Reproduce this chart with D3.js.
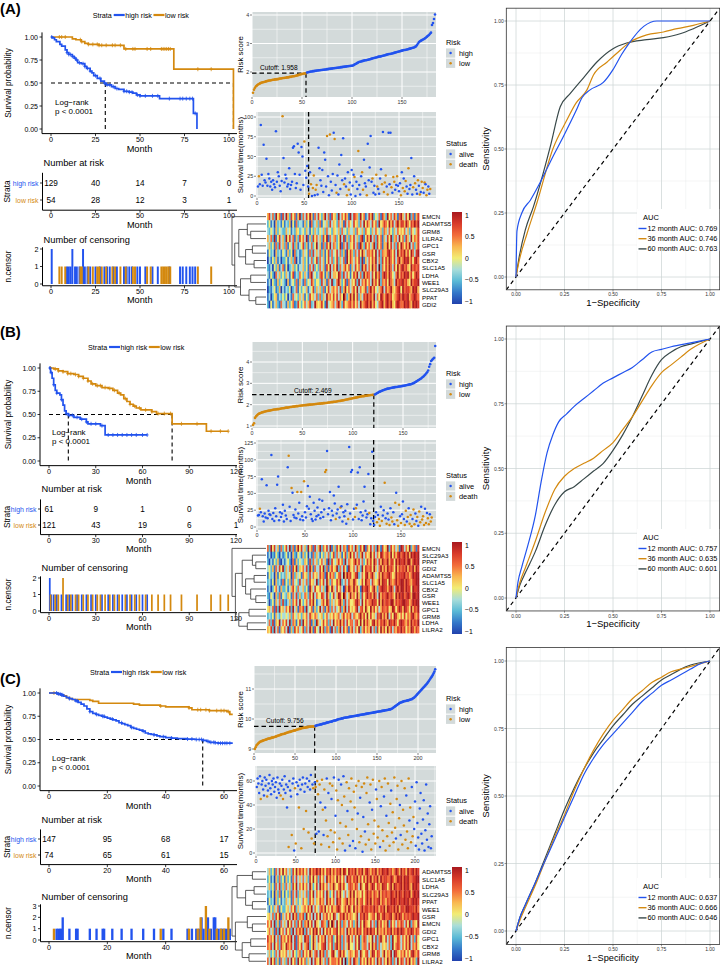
<!DOCTYPE html>
<html><head><meta charset="utf-8">
<script src="https://cdn.jsdelivr.net/npm/d3@7/dist/d3.min.js"></script>
<style>html,body{margin:0;padding:0;background:#fff}svg{display:block}</style>
</head><body>
<svg id="fig" width="720" height="965" xmlns="http://www.w3.org/2000/svg"></svg>
<script>
/* ================= DATA ================= */
const strata = ["high risk","low risk"];
// Kaplan-Meier steps [month, survival]
const kmA_high=[[0,1],[1,.99],[2,.97],[3,.95],[5,.92],[6,.90],[8,.86],[9,.83],[10,.81],[12,.79],[13,.77],[14,.75],[15,.72],[17,.71],[19,.68],[20,.66],[22,.63],[23,.61],[24,.58],[26,.55],[28,.52],[30,.50],[31,.48],[34,.46],[36,.44],[38,.43],[41,.41],[44,.40],[46,.39],[48,.37],[50,.36],[61,.33],[80,.17],[82,0]];
const kmA_low=[[0,1],[12,.98],[14,.97],[17,.95],[19,.93],[21,.92],[27,.91],[41,.87],[69,.65],[102.5,0]];
const kmA_end=[82,102.5], kmA_median=[30.5,102.5];
const kmB_high=[[0,1],[1,.95],[2,.89],[3,.82],[4,.76],[5,.73],[7,.71],[8,.66],[9,.60],[10,.54],[11,.51],[12.4,.49],[16,.47],[20,.45],[24,.42],[25,.40],[33,.38],[36,.28]];
const kmB_low=[[0,1],[3,.99],[6,.97],[9,.96],[12,.94],[16,.93],[19,.91],[22,.89],[25,.86],[27,.83],[30,.81],[34,.79],[38,.78],[41,.76],[44,.73],[46,.71],[48,.67],[50,.64],[52,.61],[54,.59],[56,.57],[59,.55],[66,.53],[69,.51],[79,.40],[101,.32]];
const kmB_end=[63,115], kmB_median=[12.4,79];
const kmC_high=[[0,1],[3,.99],[4,.98],[5,.965],[6,.95],[7,.94],[8,.93],[9,.915],[10,.90],[11,.88],[12,.86],[13,.83],[14,.80],[15,.78],[16,.77],[17,.76],[18,.75],[19,.74],[20,.73],[21,.72],[22,.71],[23,.70],[24,.68],[25,.67],[26,.66],[27,.65],[28,.63],[29,.62],[30,.61],[31,.60],[32,.59],[33,.57],[34,.56],[35,.555],[36,.55],[37,.54],[38,.53],[40,.52],[42,.515],[44,.51],[47,.505],[50,.50],[52.7,.49],[54,.48],[55,.47],[57,.465],[58,.46]];
const kmC_low=[[0,1],[3,.99],[4,.98],[5,.97],[6,.95],[7,.94],[8,.93],[14,.92],[15,.91],[17,.89],[29,.88],[31,.87],[38,.86],[40,.85],[48,.84],[49,.82],[55,.81],[61,.80],[62,.77]];
const kmC_end=[63,63], kmC_median=[52.7];
const kmTicksA=[0,25,50,75,100], kmTicksB=[0,30,60,90,120], kmTicksC=[0,20,40,60];
// numbers at risk
const riskA_high=[129,40,14,7,0], riskA_low=[54,28,12,3,1];
const riskB_high=[61,9,1,0,0], riskB_low=[121,43,19,6,1];
const riskC_high=[147,95,68,17], riskC_low=[74,65,61,15];
// censoring [month, count]
const censA_high=[[0.4,2],[9,1],[10,1],[11,1],[12,2],[13.5,1],[14.5,1],[16,1],[18,2],[19,1],[20.5,1],[22,1],[25,1],[27.5,1],[30,1],[31.5,1],[33,1],[35,1],[37,1],[41,1],[42.5,1],[44,1],[45.5,1],[48.5,1],[50,1],[53,1],[57,1],[60,1],[66.5,1],[72.5,1],[74,1],[76,1],[78,1],[79.5,1],[81,1]];
const censA_low=[[4.7,1],[6,1],[8,1],[16.5,1],[17.3,1],[21,1],[23.5,1],[26,1],[27,1],[28.5,1],[31,1],[34.5,1],[36,1],[39,1],[42,1],[46,1],[47.2,1],[54,1],[56,1],[62,1],[63,1],[64,1],[65,1],[66,1],[67,1],[82.5,1],[90,1]];
const censB_high=[[0.5,2],[1.5,1],[3,1],[5,1],[8,1],[11,1],[13,1],[15,1],[18,1],[21,1],[24,1],[27,1],[30,1],[34,1],[38,1],[41,1],[44,1],[47,1],[50,1],[53,1],[56,1],[60,1],[63,1]];
const censB_low=[[1,1],[4,1],[6,1],[9,2],[12,1],[14,1],[17,1],[19,1],[22,1],[25,1],[28,1],[31,1],[33,1],[36,1],[39,1],[42,1],[45,1],[49,1],[52,1],[55,1],[58,1],[62,1],[66,1],[70,1],[74,1],[78,1],[85,1],[95,1],[104,1],[110,1],[115,1]];
const censC_high=[[2.6,1],[3.2,1],[3.8,1],[4.3,1],[4.7,2],[7,1],[9.3,1],[9.8,1],[14,1],[16.3,1],[18.4,1],[18.9,1],[21.7,1],[24.9,1],[28.3,1],[32.3,1],[36,1],[39.2,1],[42,1],[47.5,1],[49,1],[50.5,1],[51.5,1],[52.3,2],[53,1],[54.5,2],[55.5,1],[56.5,2],[57,2],[58,1],[58.8,1],[59.5,1],[60.3,1],[61,1],[62,1]];
const censC_low=[[1.7,1],[38.3,1],[48,1],[51,1],[52,2],[53.8,3],[55,1],[57.5,1],[59,1],[60,1],[61.5,2]];

// risk scores (sorted), low group then high group
const scoreA_low=[1.27,1.38,1.45,1.50,1.53,1.56,1.58,1.60,1.62,1.63,1.64,1.65,1.66,1.67,1.68,1.69,1.70,1.70,1.71,1.72,1.73,1.73,1.74,1.74,1.75,1.75,1.76,1.77,1.77,1.78,1.79,1.79,1.80,1.80,1.81,1.81,1.82,1.83,1.83,1.84,1.85,1.85,1.86,1.87,1.88,1.89,1.90,1.91,1.92,1.93,1.94,1.95,1.95,1.96];
const scoreA_high=[1.98,1.99,2.00,2.01,2.02,2.02,2.03,2.03,2.04,2.04,2.05,2.05,2.06,2.06,2.07,2.07,2.08,2.08,2.09,2.09,2.10,2.10,2.11,2.11,2.12,2.12,2.13,2.13,2.14,2.14,2.15,2.15,2.16,2.16,2.17,2.17,2.18,2.18,2.19,2.19,2.20,2.20,2.21,2.21,2.22,2.22,2.23,
2.25,2.27,2.29,2.31,2.33,2.35,2.36,2.37,
2.38,2.39,2.40,2.41,2.41,2.42,2.43,2.44,2.45,2.46,2.47,2.48,2.49,2.50,2.51,2.52,2.53,2.54,2.54,2.55,2.56,2.57,2.58,2.59,2.60,2.61,2.62,2.63,2.63,2.64,2.65,2.66,2.67,2.68,2.69,2.70,2.71,2.72,2.73,2.74,2.75,2.76,2.77,2.77,2.78,2.79,2.80,2.81,2.82,2.83,2.84,2.85,2.86,2.88,2.90,
2.95,3.00,3.05,3.08,3.10,3.12,3.14,3.16,3.18,3.21,3.24,3.27,3.30,3.34,3.38,3.65,3.72,3.86,4.02];
const scoreB_low=[1.05,1.13,1.38,1.45,1.50,1.55,1.58,1.60,1.62,1.64,1.65,1.67,1.68,1.69,1.70,1.71,1.72,1.73,1.74,1.75,1.76,1.77,1.77,1.78,1.79,1.79,1.80,1.81,1.82,1.83,1.83,1.84,1.85,1.86,1.86,1.87,1.88,1.89,1.89,1.90,1.91,1.91,1.92,1.93,1.93,1.94,1.95,1.95,1.96,1.96,1.97,1.97,1.98,1.98,1.99,1.99,2.00,2.00,2.01,2.01,2.02,2.02,2.03,2.03,2.04,2.04,2.05,2.05,2.06,2.06,2.07,2.07,2.08,2.08,2.09,2.10,2.10,2.11,2.12,2.12,2.13,2.14,2.14,2.15,2.16,2.17,2.17,2.18,2.19,2.20,2.21,2.22,2.23,2.24,2.25,2.26,2.27,2.28,2.29,2.30,2.31,2.32,2.33,2.34,2.35,2.36,2.37,2.38,2.39,2.40,2.40,2.41,2.42,2.42,2.43,2.44,2.44,2.45,2.45,2.46,2.46];
const scoreB_high=[2.48,2.50,2.53,2.56,2.59,2.61,2.63,2.65,2.67,2.69,2.71,2.72,2.74,2.75,2.76,2.77,2.78,2.79,2.80,2.81,2.82,2.83,2.83,2.84,2.85,2.85,2.86,2.87,2.88,2.89,2.90,2.91,2.92,2.93,2.94,2.95,2.96,2.98,3.00,3.02,3.05,3.08,3.11,3.14,3.17,3.20,3.23,3.27,3.31,3.35,3.40,3.46,3.52,3.60,3.78,3.90,4.05,4.10,4.15,4.20,4.75];
const scoreC_low=[9.00,9.06,9.12,9.15,9.18,9.21,9.23,9.25,9.26,9.27,9.28,9.29,9.30,9.31,9.32,9.33,9.34,9.35,9.35,9.36,9.37,9.38,9.38,9.39,9.40,9.41,9.42,9.43,9.44,9.45,9.46,9.47,9.48,9.49,9.50,9.50,9.51,9.52,9.53,9.54,9.55,9.56,9.57,9.57,9.58,9.59,9.60,9.61,9.62,9.62,9.63,9.64,9.65,9.66,9.67,9.67,9.68,9.69,9.70,9.70,9.71,9.71,9.72,9.72,9.73,9.73,9.74,9.74,9.74,9.75,9.75,9.75,9.75,9.75];
const scoreC_high=[9.77,9.78,9.79,9.80,9.80,9.81,9.82,9.82,9.83,9.84,9.85,9.85,9.86,9.87,9.88,9.88,9.89,9.90,9.91,9.91,9.92,9.93,9.94,9.95,9.95,9.96,9.97,9.98,9.99,10.00,10.00,10.01,10.02,10.02,10.03,10.04,10.04,10.05,10.05,10.06,10.06,10.07,10.07,10.08,10.08,10.09,10.09,10.10,10.10,10.11,10.11,10.12,10.12,10.13,10.13,10.14,10.14,10.15,10.15,10.16,10.16,10.17,10.17,10.18,10.18,10.19,10.19,10.20,10.20,10.21,10.21,10.22,10.22,10.23,10.23,10.24,10.24,10.25,10.25,10.26,10.26,10.27,10.27,10.28,10.28,10.29,10.29,10.30,10.30,10.31,10.32,10.32,10.33,10.34,10.36,10.38,10.40,10.42,10.44,10.46,10.48,10.50,10.52,10.54,10.55,10.56,10.57,10.58,10.59,10.60,10.60,10.61,10.62,10.62,10.63,10.64,10.65,10.66,10.67,10.69,10.71,10.73,10.76,10.79,10.82,10.85,10.88,10.91,10.94,10.97,11.00,11.03,11.06,11.09,11.12,11.15,11.18,11.22,11.26,11.30,11.34,11.38,11.42,11.47,11.52,11.58,11.66];
const cutoffs=[1.958,2.469,9.756];

// survival time (months) per patient in risk order; status: 1 = death
const timeA=[12,25,15,90,27,13,65,20,17,47,13,28,22,12,18,8,20,15,11,82,18,30,25,13,6,19,101,48,17,27,22,12,15,35,9,14,18,61,63,28,10,16,66,55,27,8,62,50,14,69,32,23,38,12,3,30,15,0,10,26,1,8,14,2,61,35,20,13,33,5,55,46,12,76,25,1,78,18,7,28,80,72,14,4,26,2,40,9,52,20,73,15,22,12,1,30,8,17,2,33,13,27,24,0,18,9,57,14,2,25,30,8,46,16,12,1,66,20,36,76,18,22,4,13,2,27,12,9,3,22,34,15,81,5,17,26,12,2,80,15,80,11,4,24,18,8,14,25,13,6,16,1,30,10,22,6,19,12,3,35,9,14,48,2,11,25,16,8,3,20,13,2,5,18,10,4,17,15,1,8,12,3,9];
const statA="0100000000000000000000000010000000000000000000000100001010110110000000000100100001010000000100101000001000100011000100000100011000010111010001011001000101011001000010100101011010110011110110001011";
const timeB=[17,18,27,22,71,16,8,20,14,62,13,24,19,18,107,12,21,9,28,16,63,75,10,22,15,20,33,8,24,17,12,89,106,30,9,58,51,18,14,26,13,52,20,36,11,52,16,10,68,22,14,31,61,27,45,19,12,9,36,24,11,16,29,18,41,13,22,39,15,26,82,85,113,19,28,52,10,24,17,47,35,12,20,26,60,14,29,31,8,22,16,24,5,34,12,119,20,82,85,11,27,15,28,33,81,12,89,22,10,17,38,60,24,14,19,79,21,4,13,112,9,3,15,22,7,18,12,2,30,9,17,25,66,13,5,20,11,3,28,14,8,22,4,36,51,10,2,33,16,6,19,38,12,3,24,8,15,28,5,18,1,12,26,4,20,9,15,2,23,7,30,11,16,3,27,6,21,13,4,19,8,14];
const statB="0010000000000000000000000000000010010000010001001000000000000000000000110000000001000010000000100000011000000000000010000000101101001010010110010111010001101011101100101101110101101101111011011";
const timeC=[55,62,58,50,64,45,57,60,53,48,63,56,61,47,52,58,65,54,49,60,57,62,51,55,59,46,63,53,50,58,48,56,61,45,53,64,50,57,38,55,5,60,52,47,15,58,62,2,54,8,59,49,56,38,61,53,4,57,63,20,51,58,35,62,55,17,60,53,65,12,57,54,8,59,55,16,60,49,18,57,42,7,61,36,15,53,38,27,62,14,50,5,58,19,45,56,9,63,17,31,52,3,44,61,12,25,57,40,8,64,47,2,22,59,35,15,54,6,43,62,28,10,51,38,4,56,20,33,60,9,46,14,55,1,30,58,18,7,50,63,24,11,42,57,3,36,61,16,27,8,53,45,13,22,60,5,39,55,19,10,47,62,2,31,14,58,25,6,41,52,17,34,9,63,21,12,45,56,3,29,40,15,60,7,36,23,54,11,48,18,4,62,27,38,9,55,14,30,20,43,6,59,25,13,3,37,50,16,8,28,44,2,19,57,11,33,5,24,39,4,14];
const statC="000001000000010000000000000000100100000010001000110001001001001001000101101011010111010101011101101011101101101011011011101101101101100101111101101111011110011101101111101111101111001111110111011011";

// heatmap: per gene a string of levels 0..8 (0 = -1, 4 = 0, 8 = 1), columns in risk order
const genesA=["EMCN","ADAMTS5","GRM8","LILRA2","GPC1","GSR","CBX2","SLC1A5","LDHA","WEE1","SLC29A3","PPAT","GDI2"];
const heatA=[
"5736284617 3852746158 2637485163 7425836174 5283647518 3765284613 7582436175 2846375168 5374826157",
"2413052314 1325041623 3152406235 2614352735 4263517364 3745263847 5374628457 6485736857 7586476868",
"3243152432 2534132542 3425314253 2435263425 4352634253 3526435264 4253643526 5364253645 4635264357",
"5362814735 2847361527 4638152746 3527481635 6248371526 4735268147 5836274615 3748256384 6275384657",
"3524162735 2614372513 4725136248 3516274836 5248163725 4736185274 6358274615 5847362748 6475836257",
"1423052314 3152406231 2534162735 3625147263 4736251847 5263748536 6574837265 5786473857 6857486378",
"0314251302 2413526031 3524136247 2635147362 4725361847 5364728153 6475836274 7586473685 6878574786",
"2130425136 1402352413 3524163724 2635174836 4826357461 5374628573 6485739264 7586374857 8675486767",
"3142063524 2531471326 4253168342 3674152835 5486273641 4758362857 6374857268 7586436857 6878574687",
"1304215243 2051342615 3162437524 4273516382 3685247163 5472836574 6385748265 7486538677 8675486778",
"0213412503 1324023614 2435134725 3526147356 4637258463 5748364572 6857435683 7568546784 8677658785",
"1302451324 2403163425 3514274536 2625385647 4736496258 5847253768 6758364875 7867456786 8778567876",
"2041352163 3152461274 2463572385 4574183456 3685274567 5746385678 6857436785 7868547876 6878658787"];
const genesB=["EMCN","SLC29A3","PPAT","GDI2","ADAMTS5","SLC1A5","CBX2","GSR","WEE1","GPC1","GRM8","LDHA","LILRA2"];
const heatB=[
"6284735162 4738261584 7352846173 5826473815 2748365174 6385274816 4736285174 5827463518 7364825617",
"1302142031 2413052143 1524031625 3142536247 2635147258 4736258364 5847364875 6758475786 7868587878",
"2031425103 1342061524 3254172635 2463518274 3574628365 4685736247 5748637586 6857748687 7868857878",
"3425163748 2536174825 4637285163 3748261574 5826374185 4637528476 6748536857 5867648576 7685768587",
"1423051423 2534062534 1645273645 3756184756 2467395867 4578236478 5685347586 6786458677 7867568788",
"2314052316 1425163427 3536274538 2647385264 4758236375 5864347486 6375458587 7486568678 8687657788",
"1302463152 2413574263 3524185374 4635296485 3746307586 5857418678 6468526787 7578637868 8687748778",
"2143052614 3254163725 2365274836 4476385247 3587496358 5648527468 6758638576 7867648687 8678758878",
"3024153627 2135264738 4246375841 3357486253 5468527364 4578638475 6687748586 7768857677 8877568788",
"4536172845 3647283516 5728346152 4836157263 6347258374 5468367485 4857463576 6745874687 5876485768",
"2324153243 3435264354 2546375465 3452463546 4563574657 3654685748 4745376857 5836487546 4746578657",
"3627154836 4738265147 2846371528 5347462638 4658573746 6367484857 5478575768 6587686478 7657586768",
"5472836154 6381527463 4726385174 3847265183 6258374615 7364825746 5836274857 4857365768 6746587576"];
const genesC=["ADAMTS5","SLC1A5","LDHA","SLC29A3","PPAT","WEE1","GSR","EMCN","GDI2","GPC1","CBX2","GRM8","LILRA2"];
const heatC=[
"3524163748 4635274857 5746385768 6857476857 5768587486 7685768578 6576857687 7867568758 6758678687",
"2413052624 1524163735 3635274846 2746385756 4857463867 5768574758 6857685867 7668756878 6878667788",
"3524163725 2635274836 4746385247 3857463658 5468574367 6576385478 5687476587 7468587678 6878658787",
"2314052614 1425163725 3536274836 4647385247 3758436358 5846547468 6757658576 7668768687 6877857878",
"1423052413 2534163524 3645274635 4756385746 3867456857 5748567468 6857678576 5768787687 7878678787",
"3142536142 2453647253 4564758364 3675846475 5786457586 4857568677 6768675768 5877686857 7688777686",
"4536274815 3647385726 5728463837 4836574648 6347685756 5458376867 4567487578 6678568687 5767678778",
"6473825163 5384736274 7265847385 4376528496 3847265374 6258374865 4736285746 5827463657 6374826548",
"4635172846 3746283757 5827364868 4738475746 6847563857 5758674768 6867485657 5768576868 7657687576",
"7564836275 6475837164 5386724853 7465836572 4857263684 6374825763 5483726854 7362845763 6475836274",
"6573846275 4865737164 7356824853 5467836472 6857263584 4374825663 7485726354 5362846763 6475836574",
"3524263745 4635374256 2746485367 3857263478 4368574356 5476385467 3587476358 4658387546 5746478657",
"6384725163 5273846284 7462538375 4853627466 6574839257 3865274648 5746385736 4857263847 6375846528"];
// dendrograms: [height, left, right], leaves = row index
const treeA=[1.0,0,[0.92,[0.8,[0.55,1,[0.45,2,3]],[0.6,[0.4,4,5],[0.35,6,7]]],[0.75,[0.45,8,9],[0.5,10,[0.3,11,12]]]]];
const treeB=[1.0,0,[0.9,[0.7,[0.4,1,[0.3,2,3]],[0.6,[0.35,4,5],[0.45,6,[0.3,7,8]]]],[0.8,[0.5,9,10],[0.55,11,12]]]];
const treeC=[1.0,[0.85,[0.4,0,1],[0.6,[0.35,2,3],[0.4,4,5]]],[0.9,[0.55,6,[0.4,7,8]],[0.7,[0.45,9,10],[0.5,11,12]]]];

// time-dependent ROC [1-specificity, sensitivity]
const rocMonths=[12,36,60];
const rocA_12=[[0,0],[.005,.18],[.03,.25],[.074,.30],[.125,.37],[.19,.47],[.245,.55],[.31,.65],[.34,.70],[.38,.73],[.45,.76],[.50,.81],[.545,.87],[.58,.91],[.66,.98],[.726,1],[1,1]];
const rocA_36=[[0,0],[.014,.055],[.057,.17],[.108,.29],[.19,.50],[.26,.61],[.31,.68],[.365,.73],[.40,.79],[.47,.84],[.537,.886],[.588,.918],[.674,.946],[.76,.957],[.83,.97],[.914,.983],[1,1]];
const rocA_60=[[0,0],[.014,.068],[.048,.184],[.09,.275],[.177,.51],[.228,.665],[.28,.717],[.35,.78],[.417,.84],[.50,.892],[.57,.914],[.674,.927],[.76,.935],[.846,.95],[.914,.97],[1,1]];
const rocB_12=[[0,0],[.01,.06],[.03,.12],[.06,.2],[.1,.32],[.13,.45],[.16,.56],[.19,.63],[.22,.68],[.26,.71],[.3,.74],[.35,.77],[.4,.8],[.45,.83],[.5,.85],[.55,.87],[.6,.89],[.65,.92],[.7,.95],[.75,.96],[.8,.97],[.9,.985],[1,1]];
const rocB_36=[[0,0],[.02,.06],[.05,.12],[.1,.22],[.15,.33],[.2,.42],[.25,.47],[.3,.5],[.35,.52],[.4,.54],[.45,.57],[.5,.6],[.55,.65],[.6,.7],[.65,.76],[.7,.82],[.75,.87],[.8,.9],[.85,.93],[.9,.96],[1,1]];
const rocB_60=[[0,0],[.02,.05],[.05,.1],[.1,.18],[.15,.28],[.2,.36],[.25,.41],[.3,.43],[.35,.46],[.4,.49],[.45,.52],[.5,.57],[.55,.63],[.6,.7],[.65,.78],[.7,.86],[.75,.92],[.8,.95],[.85,.97],[.9,.98],[1,1]];
const rocC_12=[[0,0],[.02,.05],[.05,.1],[.1,.18],[.15,.26],[.2,.34],[.25,.42],[.3,.5],[.35,.58],[.4,.64],[.45,.69],[.5,.73],[.55,.77],[.6,.81],[.65,.85],[.7,.88],[.75,.91],[.8,.93],[.85,.95],[.9,.97],[.95,.99],[1,1]];
const rocC_36=[[0,0],[.02,.04],[.05,.09],[.1,.17],[.15,.26],[.2,.35],[.25,.43],[.3,.52],[.35,.6],[.4,.67],[.45,.73],[.5,.78],[.55,.82],[.6,.86],[.65,.89],[.7,.92],[.75,.94],[.8,.96],[.85,.97],[.9,.98],[1,1]];
const rocC_60=[[0,0],[.02,.05],[.05,.1],[.1,.18],[.15,.27],[.2,.36],[.25,.45],[.3,.53],[.35,.6],[.4,.66],[.45,.71],[.5,.76],[.55,.8],[.6,.84],[.65,.87],[.7,.9],[.75,.93],[.8,.95],[.85,.97],[.9,.985],[1,1]];
const aucA=[0.769,0.746,0.763], aucB=[0.757,0.635,0.601], aucC=[0.637,0.666,0.646];

/* ================= DRAWING ================= */
const FONT='"Liberation Sans", Arial, Helvetica, sans-serif';
const BLUE="#2253ee", ORANGE="#d4890f", SLATE="#39494a", PANEL="#d3dada";
const svg=d3.select("#fig").attr("font-family",FONT);
function ln(g,x1,y1,x2,y2,o={}){return g.append("line").attr("x1",x1).attr("y1",y1).attr("x2",x2).attr("y2",y2).attr("stroke",o.c||"#000").attr("stroke-width",o.w||0.8).attr("stroke-dasharray",o.dash||null);}
function tx(g,x,y,s,o={}){const t=g.append("text").attr("x",x).attr("y",y).text(s).attr("font-size",o.size||7).attr("fill",o.fill||"#000").attr("text-anchor",o.anchor||"start").attr("dominant-baseline","central");if(o.weight)t.attr("font-weight",o.weight);if(o.rot)t.attr("transform",`rotate(-90,${x},${y})`);return t;}
function survAt(steps,t){let s=1;for(const p of steps){if(p[0]<=t)s=p[1];else break;}return s;}

function drawKM(L){
  const g=svg.append("g");
  const x=d3.scaleLinear().domain([0,L.tRef]).range([L.x0,L.xRef]);
  const y=d3.scaleLinear().domain([0,1]).range([L.y0,L.y1]);
  const top=y(1.05), bot=y(-0.05);
  tx(g,0,L.letterY,L.letter,{size:15,weight:"bold"});
  tx(g,L.legX,L.legY,"Strata",{size:7.2});
  let lx=L.legX+21;
  [[BLUE,strata[0]],[ORANGE,strata[1]]].forEach(([c,s])=>{ln(g,lx,L.legY,lx+11,L.legY,{c,w:2.2});const t=tx(g,lx+11.5,L.legY,s,{size:7.2});lx+=11.5+t.node().getComputedTextLength()+1.5;});
  ln(g,L.axL,top,L.axL,bot,{w:1});ln(g,L.axL,bot,L.axR,bot,{w:1});
  [0,.25,.5,.75,1].forEach(v=>{ln(g,L.axL-2.5,y(v),L.axL,y(v),{w:.8});tx(g,L.axL-4,y(v),v.toFixed(2),{anchor:"end",size:7});});
  L.ticks.forEach(v=>{ln(g,x(v),bot,x(v),bot+2.5,{w:.8});tx(g,x(v),bot+5.6,v,{anchor:"middle",size:7.2});});
  tx(g,(L.axL+L.axR)/2,bot+15,"Month",{anchor:"middle",size:9.2});
  tx(g,7.5,(top+bot)/2,"Survival probability",{anchor:"middle",size:8.3,rot:true});
  const mmax=d3.max(L.median);
  ln(g,x(0),y(.5),x(mmax),y(.5),{w:1.1,dash:"4,3"});
  L.median.forEach(m=>ln(g,x(m),y(.5),x(m),y(0),{w:1.1,dash:"4,3"}));
  const line=d3.line().x(d=>x(d[0])).y(d=>y(d[1])).curve(d3.curveStepAfter);
  [[L.low,L.end[1],ORANGE,L.censLow],[L.high,L.end[0],BLUE,L.censHigh]].forEach(([st,end,c,cens])=>{
    const pts=st.concat([[end,st[st.length-1][1]]]);
    g.append("path").attr("d",line(pts)).attr("fill","none").attr("stroke",c).attr("stroke-width",1.7);
    cens.forEach(p=>{const s=survAt(st,p[0]);ln(g,x(p[0]),y(s)-2,x(p[0]),y(s)+2,{c,w:.8});ln(g,x(p[0])-1.5,y(s),x(p[0])+1.5,y(s),{c,w:.8});});
  });
  tx(g,L.lrX,L.lrY,"Log\u2212rank",{size:8});
  tx(g,L.lrX,L.lrY+9.3,"p < 0.0001",{size:8});
  return x;
}
function drawTable(L,x){
  const g=svg.append("g");
  const T=L.tab;
  tx(g,T.axL+1,T.title,"Number at risk",{size:9.3});
  const sp=T.rowL-T.rowH, top=T.rowH-0.6*sp, bot=T.rowL+0.6*sp;
  ln(g,T.axL,top,T.axL,bot,{w:1});ln(g,T.axL,bot,L.axR,bot,{w:1});
  [[T.rowH,BLUE,strata[0],L.nHigh],[T.rowL,ORANGE,strata[1],L.nLow]].forEach(([ry,c,s,vals])=>{
    ln(g,T.axL-2.5,ry,T.axL,ry,{w:.8});
    tx(g,T.axL-4,ry,s,{anchor:"end",size:6.9,fill:c});
    vals.forEach((v,i)=>tx(g,x(L.ticks[i]),ry,v,{anchor:"middle",size:8.2}));
  });
  L.ticks.forEach(v=>{ln(g,x(v),bot,x(v),bot+2.5,{w:.8});tx(g,x(v),bot+5.4,v,{anchor:"middle",size:7.2});});
  tx(g,(T.axL+L.axR)/2,bot+14.6,"Month",{anchor:"middle",size:9.2});
  tx(g,7,(top+bot)/2,"Strata",{anchor:"middle",size:8.3,rot:true});
}
function drawCens(L,x){
  const g=svg.append("g");
  const C=L.cens;
  tx(g,C.axL+1,C.title,"Number of censoring",{size:9.3});
  const y=d3.scaleLinear().domain([0,C.max]).range([C.y0,C.yMax]);
  const top=y(C.max*1.05), bot=y(-C.max*0.05);
  const bw=C.bw;
  [[L.censHigh,BLUE],[L.censLow,ORANGE]].forEach(([arr,c])=>arr.forEach(p=>{
    g.append("rect").attr("x",x(p[0]-bw/2)).attr("width",x(bw)-x(0)).attr("y",y(p[1])).attr("height",y(0)-y(p[1])).attr("fill",c);
  }));
  ln(g,C.axL,top,C.axL,bot,{w:1});ln(g,C.axL,bot,L.axR,bot,{w:1});
  d3.range(0,C.max+1).forEach(v=>{ln(g,C.axL-2.5,y(v),C.axL,y(v),{w:.8});tx(g,C.axL-4,y(v),v,{anchor:"end",size:7.2});});
  L.ticks.forEach(v=>{ln(g,x(v),bot,x(v),bot+2.5,{w:.8});tx(g,x(v),bot+5.4,v,{anchor:"middle",size:7.2});});
  tx(g,(C.axL+L.axR)/2,bot+14.6,"Month",{anchor:"middle",size:9.2});
  tx(g,8,(top+bot)/2,"n.censor",{anchor:"middle",size:8.3,rot:true});
}
function grayPanel(g,P,x,y,xt,yt){
  g.append("rect").attr("x",P.x0).attr("y",P.y0).attr("width",P.x1-P.x0).attr("height",P.y1-P.y0).attr("fill",PANEL);
  const xmin=x.invert(P.x0), xmax=x.invert(P.x1), ymin=y.invert(P.y1), ymax=y.invert(P.y0);
  const xs=xt[1]-xt[0], ys=yt[1]-yt[0];
  for(let v=xt[0]-xs/2; v<=xmax; v+=xs/2){ if(v<xmin) continue; const major=Math.abs(((v-xt[0])/xs)-Math.round((v-xt[0])/xs))<1e-6; ln(g,x(v),P.y0,x(v),P.y1,{c:"#fff",w:major?1:0.5}); }
  for(let v=yt[0]-ys/2; v<=ymax+1e-9; v+=ys/2){ if(v<ymin) continue; const major=Math.abs(((v-yt[0])/ys)-Math.round((v-yt[0])/ys))<1e-6; ln(g,P.x0,y(v),P.x1,y(v),{c:"#fff",w:major?1:0.5}); }
  xt.forEach(v=>{if(x(v)>=P.x0-0.5&&x(v)<=P.x1){ln(g,x(v),P.y1,x(v),P.y1+2,{c:"#333",w:.6});tx(g,x(v),P.y1+4.6,v,{anchor:"middle",size:5.4,fill:"#333"});}});
  yt.forEach(v=>{ln(g,P.x0-2,y(v),P.x0,y(v),{c:"#333",w:.6});tx(g,P.x0-2.8,y(v),v,{anchor:"end",size:5.4,fill:"#333"});});
}
function keyLegend(g,X,Y,title,labels,cols){
  tx(g,X,Y,title,{size:7.4});
  labels.forEach((s,i)=>{const cy=Y+11+i*10.3;g.append("rect").attr("x",X).attr("y",cy-4.6).attr("width",9.2).attr("height",9.2).attr("fill",PANEL);
    g.append("circle").attr("cx",X+4.6).attr("cy",cy).attr("r",1.2).attr("fill",cols[i]);tx(g,X+13,cy,s,{size:7.4});});
}
function drawRisk(R,low,high,cut){
  const g=svg.append("g");
  const x=d3.scaleLinear().domain([0,R.xRef]).range([R.x0,R.xRefPx]);
  const y=d3.scaleLinear().domain(R.yRef).range(R.yRefPx);
  grayPanel(g,R.P,x,y,R.xt,R.yt);
  const all=low.map(v=>[v,ORANGE]).concat(high.map(v=>[v,BLUE]));
  const nl=low.length;
  ln(g,R.P.x0,y(cut),x(nl),y(cut),{w:1.2,dash:"4.5,3"});
  ln(g,x(nl),y(cut),x(nl),R.P.y1,{w:1.2,dash:"4.5,3"});
  all.forEach((d,i)=>g.append("circle").attr("cx",x(i+1)).attr("cy",y(d[0])).attr("r",1.3).attr("fill",d[1]));
  tx(g,R.cutX,R.cutY,"Cutoff: "+cut,{size:6.6});
  tx(g,240,(R.P.y0+R.P.y1)/2,"Risk score",{anchor:"middle",size:7.9,rot:true});
  keyLegend(g,446,R.legY,"Risk",["high","low"],[BLUE,ORANGE]);
  return nl;
}
function drawScatter(S,times,stat,nl){
  const g=svg.append("g");
  const x=d3.scaleLinear().domain([0,S.xRef]).range([S.x0,S.xRefPx]);
  const y=d3.scaleLinear().domain(S.yRef).range(S.yRefPx);
  grayPanel(g,S.P,x,y,S.xt,S.yt);
  ln(g,x(nl+0.5),S.P.y0,x(nl+0.5),S.P.y1,{w:1.3,dash:"4.5,3"});
  times.forEach((t,i)=>g.append("circle").attr("cx",x(i+1)).attr("cy",y(t)).attr("r",1.25).attr("fill",stat[i]==="1"?ORANGE:BLUE));
  tx(g,240,(S.P.y0+S.P.y1)/2,"Survival time(months)",{anchor:"middle",size:7.9,rot:true});
  keyLegend(g,446,S.legY,"Status",["alive","death"],[BLUE,ORANGE]);
}
const heatColor=d3.scaleLinear().domain([-1,-0.75,-0.5,-0.25,0,0.25,0.5,0.75,1]).range(["#2141ad","#3478c9","#5bbad6","#a9ddd9","#f2ec74","#f9b650","#f26b3a","#d83a2a","#a8191f"]);
function drawHeat(H,genes,rows,tree){
  const g=svg.append("g");
  const rh=(H.y1-H.y0)/genes.length;
  rows.forEach((r,ri)=>{const s=r.replace(/ /g,"");const cw=(H.x1-H.x0)/s.length;
    for(let j=0;j<s.length;j++){const v=(+s[j]-4)/4;g.append("rect").attr("x",H.x0+j*cw).attr("y",H.y0+ri*rh).attr("width",cw+0.35).attr("height",rh+0.35).attr("fill",heatColor(v));}
    tx(g,H.x1+3,H.y0+(ri+0.5)*rh,genes[ri],{size:6.2});
  });
  const xl=H.dx0, xr=H.x0-1;
  function rec(n){ if(typeof n==="number") return {x:xr,y:H.y0+(n+0.5)*rh};
    const a=rec(n[1]), b=rec(n[2]); const xh=xr-(xr-xl)*n[0];
    g.append("path").attr("d",`M${a.x},${a.y}H${xh}V${b.y}H${b.x}`).attr("fill","none").attr("stroke","#333").attr("stroke-width",0.8);
    return {x:xh,y:(a.y+b.y)/2};}
  rec(tree);
  const id="grad"+H.id;
  const grad=svg.append("defs").append("linearGradient").attr("id",id).attr("x1",0).attr("y1",1).attr("x2",0).attr("y2",0);
  heatColor.domain().forEach((v,i)=>grad.append("stop").attr("offset",(v+1)/2).attr("stop-color",heatColor.range()[i]));
  const cy=d3.scaleLinear().domain([-1,1]).range([H.cb1,H.cb0]);
  g.append("rect").attr("x",452).attr("y",cy(1)-3).attr("width",10).attr("height",cy(-1)-cy(1)+6).attr("fill",`url(#${id})`);
  [1,0.5,0,-0.5,-1].forEach(v=>tx(g,465,cy(v),v<0?"\u2212"+Math.abs(v):v,{size:6.8}));
}
function drawROC(O,curves,auc){
  const g=svg.append("g");
  const x=d3.scaleLinear().domain([0,1]).range([516,710]);
  const y=d3.scaleLinear().domain([0,1]).range([O.y0,O.y1]);
  const L=x(-0.05),R=x(1.05),T=y(1.05),B=y(-0.05);
  g.append("rect").attr("x",L).attr("y",T).attr("width",R-L).attr("height",B-T).attr("fill","#fff");
  [0,.125,.25,.375,.5,.625,.75,.875,1].forEach((v,i)=>{const w=i%2?0.35:0.75,c=i%2?"#e1e6e6":"#cdd6d6";ln(g,x(v),T,x(v),B,{c,w});ln(g,L,y(v),R,y(v),{c,w});});
  const clipId="clip"+O.id;
  svg.append("defs").append("clipPath").attr("id",clipId).append("rect").attr("x",L).attr("y",T).attr("width",R-L).attr("height",B-T);
  const cg=g.append("g").attr("clip-path",`url(#${clipId})`);
  ln(cg,x(-0.05),y(-0.05),x(1.05),y(1.05),{w:1.2,dash:"4,3.5"});
  const line=d3.line().x(d=>x(d[0])).y(d=>y(d[1])).curve(d3.curveMonotoneX);
  const cols=[BLUE,ORANGE,SLATE];
  [2,1,0].forEach(i=>cg.append("path").attr("d",line(curves[i])).attr("fill","none").attr("stroke",cols[i]).attr("stroke-width",1.2));
  g.append("rect").attr("x",L).attr("y",T).attr("width",R-L).attr("height",B-T).attr("fill","none").attr("stroke","#333").attr("stroke-width",0.8);
  [0,.25,.5,.75,1].forEach(v=>{ln(g,x(v),B,x(v),B+1.8,{c:"#333",w:.5});tx(g,x(v),B+4.6,v.toFixed(2),{anchor:"middle",size:5,fill:"#333"});
    ln(g,L-1.8,y(v),L,y(v),{c:"#333",w:.5});tx(g,L-2.5,y(v),v.toFixed(2),{anchor:"end",size:5,fill:"#333"});});
  tx(g,(L+R)/2,B+O.titleOff,"1\u2212Specificity",{anchor:"middle",size:O.titleSize});
  tx(g,485,(T+B)/2,"Sensitivity",{anchor:"middle",size:9.7,rot:true});
  g.append("rect").attr("x",637).attr("y",O.legY-8).attr("width",R-637-0.5).attr("height",42).attr("fill","#fff");
  tx(g,643,O.legY,"AUC",{size:7.5});
  rocMonths.forEach((m,i)=>{const yy=O.legY+11.5+i*10.2;ln(g,638.5,yy,646.5,yy,{c:cols[i],w:1.4});tx(g,647.5,yy,`${m} month AUC: ${auc[i].toFixed(3)}`,{size:7.3});});
}

/* ===== layouts ===== */
const layouts=[
 {letter:"(A)",letterY:8,legX:92.7,legY:15,tRef:100,x0:51,xRef:229,y0:129,y1:37,axL:42,axR:237,ticks:kmTicksA,median:kmA_median,
  high:kmA_high,low:kmA_low,end:kmA_end,censHigh:censA_high,censLow:censA_low,lrX:55,lrY:102,nHigh:riskA_high,nLow:riskA_low,
  tab:{axL:42.5,title:163,rowH:183,rowL:200},cens:{axL:42.5,title:240,max:2,y0:284,yMax:249,bw:1.1},
  risk:{x0:252,xRef:150,xRefPx:402,yRef:[2,4],yRefPx:[72,15],P:{x0:252,x1:436,y0:12,y1:97},xt:[0,50,100,150],yt:[2,3,4],cutX:260,cutY:67,legY:42},
  scat:{x0:257,xRef:150,xRefPx:399,yRef:[0,100],yRefPx:[196,117],P:{x0:256,x1:436,y0:112,y1:198},xt:[0,50,100,150],yt:[0,25,50,75,100],legY:143},
  heat:{id:"A",x0:267,x1:419,y0:213,y1:308,dx0:232,cb0:215,cb1:301},
  roc:{id:"A",y0:277,y1:21,legY:217,titleOff:13,titleSize:9.5},
  score:[scoreA_low,scoreA_high],time:timeA,stat:statA,genes:genesA,heatRows:heatA,tree:treeA,rocs:[rocA_12,rocA_36,rocA_60],auc:aucA,cut:cutoffs[0]},
 {letter:"(B)",letterY:331,legX:88,legY:347,tRef:120,x0:49,xRef:236,y0:461,y1:368,axL:40,axR:237,ticks:kmTicksB,median:kmB_median,
  high:kmB_high,low:kmB_low,end:kmB_end,censHigh:censB_high,censLow:censB_low,lrX:52,lrY:432,nHigh:riskB_high,nLow:riskB_low,
  tab:{axL:40.5,title:489,rowH:509,rowL:525},cens:{axL:40.5,title:568,max:2,y0:611,yMax:578,bw:1.1},
  risk:{x0:252,xRef:150,xRefPx:403,yRef:[1,4],yRefPx:[426,362],P:{x0:252,x1:436,y0:342,y1:428},xt:[0,50,100,150],yt:[1,2,3,4],cutX:294,cutY:390,legY:373},
  scat:{x0:257,xRef:150,xRefPx:401,yRef:[0,125],yRefPx:[527,443],P:{x0:256,x1:436,y0:440,y1:530},xt:[0,50,100,150],yt:[0,25,50,75,100,125],legY:475},
  heat:{id:"B",x0:267,x1:419,y0:545,y1:633,dx0:232,cb0:545,cb1:631},
  roc:{id:"B",y0:598,y1:339,legY:537,titleOff:12.5,titleSize:9.5},
  score:[scoreB_low,scoreB_high],time:timeB,stat:statB,genes:genesB,heatRows:heatB,tree:treeB,rocs:[rocB_12,rocB_36,rocB_60],auc:aucB,cut:cutoffs[1]},
 {letter:"(C)",letterY:678,legX:90,legY:672,tRef:60,x0:49,xRef:224,y0:786,y1:693,axL:40,axR:237,ticks:kmTicksC,median:kmC_median,
  high:kmC_high,low:kmC_low,end:kmC_end,censHigh:censC_high,censLow:censC_low,lrX:52,lrY:758,nHigh:riskC_high,nLow:riskC_low,
  tab:{axL:40.5,title:820,rowH:839,rowL:855},cens:{axL:40.5,title:897,max:3,y0:940,yMax:906,bw:0.8},
  risk:{x0:254,xRef:200,xRefPx:418,yRef:[9,11],yRefPx:[749,689],P:{x0:254,x1:436,y0:666,y1:753},xt:[0,50,100,150,200],yt:[9,10,11],cutX:266,cutY:720,legY:698},
  scat:{x0:256,xRef:200,xRefPx:415,yRef:[0,60],yRefPx:[853,781],P:{x0:255,x1:436,y0:766,y1:856},xt:[0,50,100,150,200],yt:[0,20,40,60],legY:800},
  heat:{id:"C",x0:267,x1:419,y0:868,y1:965,dx0:232,cb0:870,cb1:958},
  roc:{id:"C",y0:931,y1:661,legY:886,titleOff:13.3,titleSize:9.2},
  score:[scoreC_low,scoreC_high],time:timeC,stat:statC,genes:genesC,heatRows:heatC,tree:treeC,rocs:[rocC_12,rocC_36,rocC_60],auc:aucC,cut:cutoffs[2]}
];
layouts.forEach(L=>{
  const x=drawKM(L);
  drawTable(L,x);
  drawCens(L,x);
  const nl=drawRisk(L.risk,L.score[0],L.score[1],L.cut);
  drawScatter(L.scat,L.time,L.stat,nl);
  drawHeat(L.heat,L.genes,L.heatRows,L.tree);
  drawROC(L.roc,L.rocs,L.auc);
});
</script>
</body></html>
